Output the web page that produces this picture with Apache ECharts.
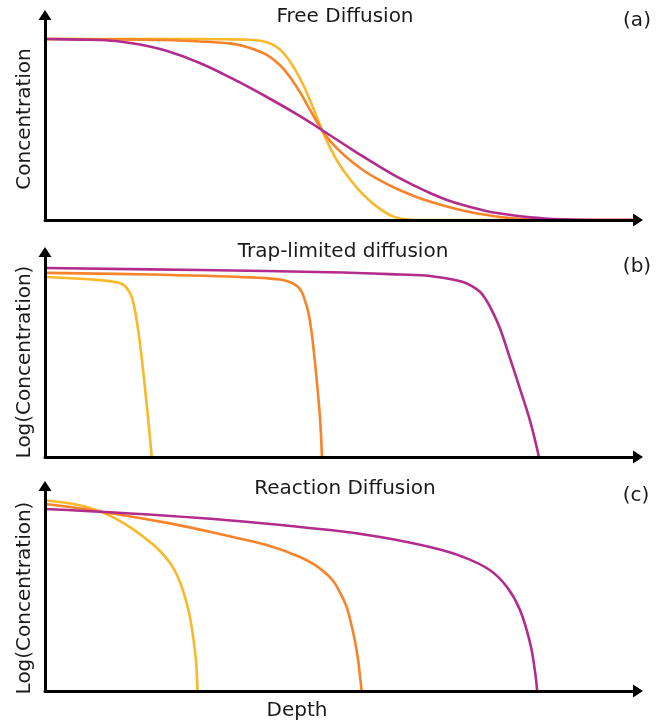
<!DOCTYPE html>
<html>
<head>
<meta charset="utf-8">
<script src="https://cdn.jsdelivr.net/npm/echarts@6/dist/echarts.min.js"></script>
<style>
html,body{margin:0;padding:0;background:#fff;}
#chart{width:662px;height:722px;}
</style>
</head>
<body>
<div id="chart"></div>
<script>
// ---------- Data (depth in arbitrary units 0..10, concentration 0..1) ----------
// Panel (a): Free Diffusion
const freeYellowX = [0, 2.61, 3.37, 3.66, 3.88, 4.05, 4.22, 4.38, 4.55, 4.67, 4.81, 4.97, 5.14, 5.31, 5.48, 5.65, 5.82, 5.99, 6.24, 10];
const freeYellowY = [0.883, 0.883, 0.880, 0.873, 0.849, 0.805, 0.732, 0.644, 0.527, 0.439, 0.351, 0.268, 0.200, 0.141, 0.093, 0.054, 0.024, 0.007, 0, 0];
const freeOrangeX = [0, 1.26, 1.94, 2.61, 3.17, 3.46, 3.74, 3.96, 4.13, 4.30, 4.47, 4.67, 4.81, 5.06, 5.36, 5.65, 5.94, 6.24, 6.49, 6.78, 7.05, 7.34, 7.67, 8.01, 8.43, 8.85, 10];
const freeOrangeY = [0.883, 0.881, 0.878, 0.871, 0.859, 0.839, 0.805, 0.756, 0.698, 0.624, 0.537, 0.439, 0.385, 0.312, 0.244, 0.193, 0.151, 0.115, 0.090, 0.066, 0.046, 0.029, 0.015, 0.006, 0.001, 0, 0];
const freePurpleX = [0, 0.59, 0.93, 1.26, 1.60, 2.06, 2.61, 3.17, 3.74, 4.30, 4.67, 5.06, 5.36, 5.65, 5.94, 6.24, 6.49, 6.78, 7.05, 7.34, 7.62, 8.18, 8.74, 9.36, 10];
const freePurpleY = [0.883, 0.880, 0.878, 0.871, 0.856, 0.824, 0.766, 0.688, 0.600, 0.507, 0.439, 0.366, 0.310, 0.259, 0.210, 0.166, 0.132, 0.098, 0.073, 0.051, 0.034, 0.013, 0.003, 0, 0];

// Panel (b): Trap-limited diffusion
const trapYellowX = [0, 0.93, 1.18, 1.30, 1.38, 1.45, 1.50, 1.55, 1.60, 1.65, 1.70, 1.75, 1.80];
const trapYellowY = [0.878, 0.863, 0.854, 0.844, 0.824, 0.790, 0.741, 0.659, 0.556, 0.434, 0.298, 0.156, 0];
const trapOrangeX = [0, 1.77, 3.46, 3.96, 4.13, 4.25, 4.33, 4.38, 4.44, 4.49, 4.54, 4.59, 4.64, 4.67];
const trapOrangeY = [0.898, 0.890, 0.876, 0.866, 0.854, 0.834, 0.805, 0.766, 0.707, 0.620, 0.498, 0.351, 0.180, 0];
const trapPurpleX = [0, 2.61, 4.81, 5.99, 6.49, 6.83, 7.05, 7.20, 7.34, 7.45, 7.55, 7.67, 7.84, 8.01, 8.18, 8.33];
const trapPurpleY = [0.922, 0.912, 0.901, 0.890, 0.883, 0.868, 0.854, 0.834, 0.805, 0.761, 0.707, 0.629, 0.483, 0.332, 0.176, 0];

// Panel (c): Reaction Diffusion
const reactYellowX = [0, 0.37, 0.76, 1.10, 1.48, 1.77, 1.94, 2.11, 2.24, 2.34, 2.43, 2.50, 2.55, 2.57];
const reactYellowY = [0.929, 0.917, 0.893, 0.854, 0.790, 0.727, 0.683, 0.624, 0.556, 0.478, 0.380, 0.259, 0.132, 0];
const reactOrangeX = [0, 0.76, 2.06, 3.17, 3.74, 4.30, 4.55, 4.72, 4.86, 4.97, 5.08, 5.16, 5.23, 5.28, 5.31, 5.34];
const reactOrangeY = [0.912, 0.883, 0.820, 0.751, 0.712, 0.654, 0.615, 0.578, 0.537, 0.483, 0.415, 0.332, 0.239, 0.151, 0.078, 0];
const reactPurpleX = [0, 2.61, 4.81, 5.65, 6.49, 7.05, 7.50, 7.79, 8.01, 8.18, 8.26, 8.30];
const reactPurpleY = [0.888, 0.844, 0.785, 0.751, 0.702, 0.654, 0.590, 0.507, 0.395, 0.234, 0.102, 0];

const panelTitles = ['Free Diffusion', 'Trap-limited diffusion', 'Reaction Diffusion'];
const panelLetters = ['(a)', '(b)', '(c)'];
const yLabels = ['Concentration', 'Log(Concentration)', 'Log(Concentration)'];
const xLabel = 'Depth';

const colors = { yellow: '#fbb829', orange: '#f7832a', purple: '#b32c8c' };

// ---------- Build chart ----------
const zip = (xs, ys) => xs.map((x, i) => [x, ys[i]]);
const FONT = 'DejaVu Sans';
const gridTops = [15, 252, 486];
const GRID_H = 205;

const grids = gridTops.map(t => ({ left: 45, top: t, width: 593, height: GRID_H, containLabel: false }));
const axisLine = { show: true, symbol: ['none', 'triangle'], symbolSize: [13, 10], lineStyle: { color: '#000', width: 3 } };
const xAxes = gridTops.map((t, i) => ({
  type: 'value', gridIndex: i, min: 0, max: 10, z: 5,
  axisLine, axisTick: { show: false }, axisLabel: { show: false }, splitLine: { show: false }
}));
const yAxes = gridTops.map((t, i) => ({
  type: 'value', gridIndex: i, min: 0, max: 1, z: 5,
  axisLine, axisTick: { show: false }, axisLabel: { show: false }, splitLine: { show: false }
}));

function line(name, xs, ys, color, idx) {
  return {
    name, type: 'line', xAxisIndex: idx, yAxisIndex: idx,
    data: zip(xs, ys), showSymbol: false, smooth: 0.4,
    lineStyle: { color, width: 2.6 }, itemStyle: { color }, z: 2, silent: true
  };
}

const series = [
  line('a-yellow', freeYellowX, freeYellowY, colors.yellow, 0),
  line('a-orange', freeOrangeX, freeOrangeY, colors.orange, 0),
  line('a-purple', freePurpleX, freePurpleY, colors.purple, 0),
  line('b-yellow', trapYellowX, trapYellowY, colors.yellow, 1),
  line('b-orange', trapOrangeX, trapOrangeY, colors.orange, 1),
  line('b-purple', trapPurpleX, trapPurpleY, colors.purple, 1),
  line('c-yellow', reactYellowX, reactYellowY, colors.yellow, 2),
  line('c-orange', reactOrangeX, reactOrangeY, colors.orange, 2),
  line('c-purple', reactPurpleX, reactPurpleY, colors.purple, 2)
];

const titlePos = [[345, 17], [343, 252], [345, 489]];
const letterPos = [[637, 21], [637, 267], [636, 496]];
const yLabelPos = [[25, 119], [25, 362], [25, 598]];

const txt = (text, x, y, rot) => ({
  type: 'text', x, y, rotation: rot || 0, z: 10,
  style: { text, fill: '#1a1a1a', font: '20px "' + FONT + '"', textAlign: 'center', textVerticalAlign: 'middle' }
});
const graphic = [];
panelTitles.forEach((t, i) => graphic.push(txt(t, titlePos[i][0], titlePos[i][1])));
panelLetters.forEach((t, i) => graphic.push(txt(t, letterPos[i][0], letterPos[i][1])));
yLabels.forEach((t, i) => graphic.push(txt(t, yLabelPos[i][0], yLabelPos[i][1], Math.PI / 2)));
graphic.push(txt(xLabel, 297, 711));

const chart = echarts.init(document.getElementById('chart'), null, { renderer: 'canvas' });
chart.setOption({
  animation: false,
  backgroundColor: '#ffffff',
  grid: grids, xAxis: xAxes, yAxis: yAxes, series, graphic
});
</script>
</body>
</html>
